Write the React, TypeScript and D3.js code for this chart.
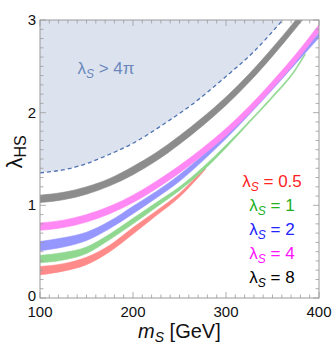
import React, { useEffect } from 'react'
import * as d3 from 'd3'

// m_S grid points (GeV) and band edges [lo, hi]
const massGray = [100, 125, 150, 175, 200, 225, 250, 275, 300, 325, 350, 375, 390]
const grayLo = [1.03, 1.06, 1.12, 1.21, 1.33, 1.48, 1.66, 1.86, 2.08, 2.33, 2.61, 2.91, 3.1]
const grayHi = [1.11, 1.14, 1.2, 1.29, 1.42, 1.57, 1.75, 1.95, 2.17, 2.42, 2.7, 3.0, 3.19]

const massPink = [100, 125, 150, 175, 200, 225, 250, 275, 300, 325, 350, 375, 400]
const pinkLo = [0.73, 0.76, 0.82, 0.91, 1.03, 1.18, 1.35, 1.54, 1.75, 1.99, 2.26, 2.55, 2.87]
const pinkHi = [0.81, 0.84, 0.9, 0.99, 1.11, 1.26, 1.43, 1.62, 1.83, 2.07, 2.34, 2.63, 2.95]

const massBlue = [100, 125, 150, 175, 200, 225, 250, 275, 300, 325, 350, 375, 400]
const blueLo = [0.51, 0.55, 0.62, 0.75, 0.91, 1.08, 1.26, 1.48, 1.72, 1.98, 2.25, 2.53, 2.81]
const blueHi = [0.61, 0.65, 0.71, 0.83, 0.99, 1.15, 1.33, 1.54, 1.77, 2.03, 2.3, 2.58, 2.86]

const massGreen = [100, 125, 150, 175, 200, 225, 250, 275, 300, 325, 350, 375, 385]
const greenLo = [0.38, 0.41, 0.48, 0.63, 0.8, 0.98, 1.16, 1.37, 1.62, 1.89, 2.16, 2.46, 2.62]
const greenHi = [0.46, 0.49, 0.55, 0.69, 0.86, 1.03, 1.2, 1.41, 1.65, 1.91, 2.18, 2.48, 2.64]

const massRed = [100, 125, 150, 175, 200, 225, 250, 278]
const redLo = [0.25, 0.29, 0.36, 0.5, 0.69, 0.89, 1.09, 1.39]
const redHi = [0.34, 0.37, 0.44, 0.57, 0.76, 0.94, 1.13, 1.42]

// perturbativity boundary lambda_S = 4 pi
const boundMass = [100, 133, 150, 170, 200, 238, 265, 294, 330, 361]
const boundLam = [1.35, 1.4, 1.45, 1.53, 1.67, 1.91, 2.1, 2.34, 2.66, 3.0]

const legendLabels = ['0.5', '1', '2', '4', '8']
const legendColors = ['#ff2222', '#22b022', '#2222ff', '#ff10ff', '#000000']

const xTicks = [100, 200, 300, 400]
const yTicks = [0, 1, 2, 3]

const W = 332
const H = 349
const left = 40
const right = 319
const top = 20
const bottom = 298

export default function App() {
  useEffect(() => {
    document.body.style.margin = '0'
  }, [])

  const x = d3.scaleLinear().domain([100, 400]).range([left, right])
  const y = d3.scaleLinear().domain([0, 3]).range([bottom, top])

  const bands = [
    { m: massRed, lo: redLo, hi: redHi, fill: '#ff8a8a' },
    { m: massGreen, lo: greenLo, hi: greenHi, fill: '#90d890' },
    { m: massBlue, lo: blueLo, hi: blueHi, fill: '#9696ff' },
    { m: massPink, lo: pinkLo, hi: pinkHi, fill: '#ff88f4' },
    { m: massGray, lo: grayLo, hi: grayHi, fill: '#8c8c8c' },
  ]

  const area = d3.area<number>()
    .curve(d3.curveMonotoneX)

  const bandPaths = bands.map(b => {
    const idx = b.m.map((_, i) => i)
    return area
      .x(i => x(b.m[i]))
      .y0(i => y(b.lo[i]))
      .y1(i => y(b.hi[i]))(idx)
  })

  const bIdx = boundMass.map((_, i) => i)
  const boundLine = d3.line<number>()
    .x(i => x(boundMass[i]))
    .y(i => y(boundLam[i]))
    .curve(d3.curveMonotoneX)
  const boundFill = d3.area<number>()
    .x(i => x(boundMass[i]))
    .y0(y(3))
    .y1(i => y(boundLam[i]))
    .curve(d3.curveMonotoneX)

  const xMinor = d3.range(100, 401, 10)
  const yMinor = d3.range(0, 3.001, 0.1)
  const tickCol = '#9a9a9a'
  const font = '"Liberation Sans", Arial, sans-serif'

  return (
    <svg width={W} height={H} style={{ display: 'block' }} fontFamily={font}>
      <defs>
        <clipPath id="plot">
          <rect x={left} y={top} width={right - left} height={bottom - top} />
        </clipPath>
      </defs>
      <rect width={W} height={H} fill="#fff" />
      <g clipPath="url(#plot)">
        <path d={boundFill(bIdx) || ''} fill="#dde3ee" />
        {bandPaths.map((d, i) => (
          <path key={i} d={d || ''} fill={bands[i].fill} stroke={bands[i].fill} strokeWidth={0.6} />
        ))}
        <path d={boundLine(bIdx) || ''} fill="none" stroke="#4f72b2" strokeWidth={1.3} strokeDasharray="4,3" />
      </g>

      {/* frame and ticks */}
      <rect x={left} y={top} width={right - left} height={bottom - top} fill="none" stroke={tickCol} strokeWidth={1} />
      {xMinor.map(v => {
        const major = v % 100 === 0
        const len = major ? 6 : 3.5
        return (
          <g key={'x' + v} stroke={tickCol} strokeWidth={0.8}>
            <line x1={x(v)} x2={x(v)} y1={bottom} y2={bottom - len} />
            <line x1={x(v)} x2={x(v)} y1={top} y2={top + len} />
          </g>
        )
      })}
      {yMinor.map((v, i) => {
        const major = i % 10 === 0
        const len = major ? 6 : 3.5
        return (
          <g key={'y' + i} stroke={tickCol} strokeWidth={0.8}>
            <line x1={left} x2={left + len} y1={y(v)} y2={y(v)} />
            <line x1={right} x2={right - len} y1={y(v)} y2={y(v)} />
          </g>
        )
      })}

      {xTicks.map(v => (
        <text key={'xl' + v} x={x(v)} y={317} fontSize={15} textAnchor="middle" fill="#111">{v}</text>
      ))}
      {yTicks.map(v => (
        <text key={'yl' + v} x={36} y={v === 0 ? y(v) + 3 : y(v) + 5} fontSize={15} textAnchor="end" fill="#111">{v}</text>
      ))}

      {/* axis titles */}
      <text x={138} y={338} fontSize={20} fill="#111">
        <tspan fontStyle="italic">m</tspan>
        <tspan fontStyle="italic" fontSize={14} dy={4}>S</tspan>
        <tspan dy={-4}> [GeV]</tspan>
      </text>
      <text transform="translate(22,152) rotate(-90)" fontSize={22} textAnchor="middle" fill="#111">
        <tspan>λ</tspan>
        <tspan fontSize={16} dy={4}>HS</tspan>
      </text>

      {/* shaded region label */}
      <text x={106} y={74} fontSize={17} textAnchor="middle" fill="#6a88bd">
        <tspan>λ</tspan>
        <tspan fontStyle="italic" fontSize={12} dy={4}>S</tspan>
        <tspan dy={-4}> &gt; 4π</tspan>
      </text>

      {/* legend */}
      {legendLabels.map((lab, i) => (
        <text key={'lg' + i} x={272} y={187 + i * 24} fontSize={17} textAnchor="middle" fill={legendColors[i]}>
          <tspan>λ</tspan>
          <tspan fontStyle="italic" fontSize={12} dy={4}>S</tspan>
          <tspan dy={-4}> = {lab}</tspan>
        </text>
      ))}
    </svg>
  )
}
